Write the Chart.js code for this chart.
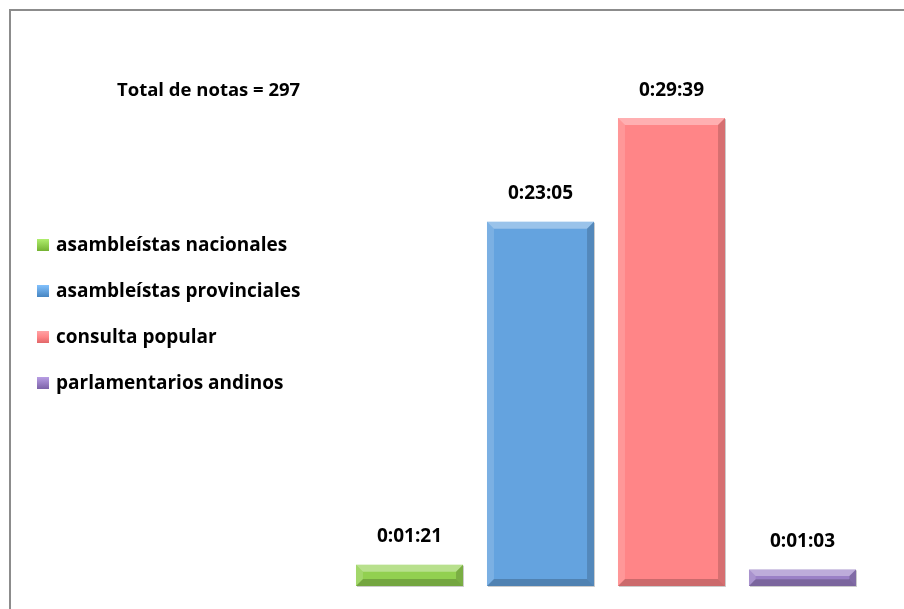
<!DOCTYPE html>
<html>
<head>
<meta charset="utf-8">
<script src="https://cdn.jsdelivr.net/npm/chart.js@4.4.1/dist/chart.umd.min.js"></script>
<style>
  html, body { margin: 0; padding: 0; background: #fff; }
  #wrap { position: relative; width: 904px; height: 609px; overflow: hidden; }
  #frame { position: absolute; left: 9px; top: 9px; width: 1000px; height: 700px;
           border-top: 2px solid #8c8c8c; border-left: 2px solid #8c8c8c; box-sizing: border-box; }
  #total { position: absolute; left: 117px; top: 76px; font: bold 18.5px "Open Sans", sans-serif; line-height: 26px; color: #000; }
  #legend { position: absolute; left: 37px; top: 231px; font: bold 19px "Open Sans", sans-serif; color: #000; }
  #legend div { height: 46px; display: flex; align-items: flex-start; line-height: 26px; white-space: nowrap; }
  #legend span.box { width: 12px; height: 12px; margin: 8px 7px 0 0; box-sizing: border-box; }
  canvas { position: absolute; left: 0; top: 0; }
</style>
</head>
<body>
<div id="wrap">
  <div id="frame"></div>
  <canvas id="chart" width="904" height="609"></canvas>
  <div id="total"></div>
  <div id="legend"></div>
</div>
<script>
// duration per category, in seconds
const categories = ['asambleístas nacionales', 'asambleístas provinciales', 'consulta popular', 'parlamentarios andinos']
const seconds = [81, 1385, 1779, 63]
const colors = ['#92d050', '#64a3df', '#ff8587', '#9a80c6']
const totalNotes = 297

document.getElementById('total').textContent = 'Total de notas = ' + totalNotes

const legend = document.getElementById('legend')
categories.forEach((c, i) => {
  const row = document.createElement('div')
  const box = document.createElement('span')
  box.className = 'box'
  box.style.background = 'linear-gradient(' + shade(colors[i], 30) + ',' + colors[i] + ' 50%,' + shade(colors[i], -30) + ')'
  row.appendChild(box)
  row.appendChild(document.createTextNode(c))
  legend.appendChild(row)
})

function shade(hex, amt) {
  const n = parseInt(hex.slice(1), 16)
  const r = Math.max(0, Math.min(255, (n >> 16) + amt))
  const g = Math.max(0, Math.min(255, ((n >> 8) & 255) + amt))
  const b = Math.max(0, Math.min(255, (n & 255) + amt))
  return 'rgb(' + r + ',' + g + ',' + b + ')'
}

function fmt(s) {
  const h = Math.floor(s / 3600)
  const m = Math.floor((s % 3600) / 60)
  const sec = s % 60
  return h + ':' + String(m).padStart(2, '0') + ':' + String(sec).padStart(2, '0')
}

// bevel look + value labels
const bevelPlugin = {
  id: 'bevel',
  afterDatasetsDraw(chart) {
    const ctx = chart.ctx
    chart.getDatasetMeta(0).data.forEach((bar, i) => {
      const l = bar.x - bar.width / 2, r = bar.x + bar.width / 2
      const t = bar.y, b = bar.base
      const d = Math.min(7, (b - t) / 2.5)
      ctx.save()
      // top bevel
      ctx.fillStyle = 'rgba(255,255,255,0.35)'
      ctx.beginPath(); ctx.moveTo(l, t); ctx.lineTo(r, t); ctx.lineTo(r - d, t + d); ctx.lineTo(l + d, t + d); ctx.fill()
      // left bevel
      ctx.fillStyle = 'rgba(255,255,255,0.15)'
      ctx.beginPath(); ctx.moveTo(l, t); ctx.lineTo(l + d, t + d); ctx.lineTo(l + d, b - d); ctx.lineTo(l, b); ctx.fill()
      // right bevel
      ctx.fillStyle = 'rgba(0,0,0,0.16)'
      ctx.beginPath(); ctx.moveTo(r, t); ctx.lineTo(r - d, t + d); ctx.lineTo(r - d, b - d); ctx.lineTo(r, b); ctx.fill()
      // bottom bevel
      ctx.fillStyle = 'rgba(0,0,0,0.2)'
      ctx.beginPath(); ctx.moveTo(l, b); ctx.lineTo(l + d, b - d); ctx.lineTo(r - d, b - d); ctx.lineTo(r, b); ctx.fill()
      // shadow edge
      ctx.strokeStyle = 'rgba(0,0,0,0.2)'
      ctx.lineWidth = 1
      ctx.beginPath(); ctx.moveTo(r + 0.5, t + 1); ctx.lineTo(r + 0.5, b + 0.5); ctx.lineTo(l + 1, b + 0.5); ctx.stroke()
      // value label
      ctx.fillStyle = '#000'
      ctx.font = 'bold 19px "Open Sans", sans-serif'
      ctx.textAlign = 'center'
      ctx.textBaseline = 'middle'
      ctx.fillText(fmt(seconds[i]), bar.x, t - 28)
      ctx.restore()
    })
  }
}

new Chart(document.getElementById('chart'), {
  type: 'bar',
  data: {
    labels: categories,
    datasets: [{
      data: seconds,
      backgroundColor: colors,
      borderWidth: 0,
      barPercentage: 0.817,
      categoryPercentage: 1
    }]
  },
  options: {
    responsive: false,
    animation: false,
    layout: { padding: { left: 344, right: 36, top: 60, bottom: 23 } },
    plugins: { legend: { display: false }, tooltip: { enabled: false } },
    scales: {
      x: { display: false },
      y: { display: false, min: 0, max: 2000 }
    }
  },
  plugins: [bevelPlugin]
})
</script>
</body>
</html>
